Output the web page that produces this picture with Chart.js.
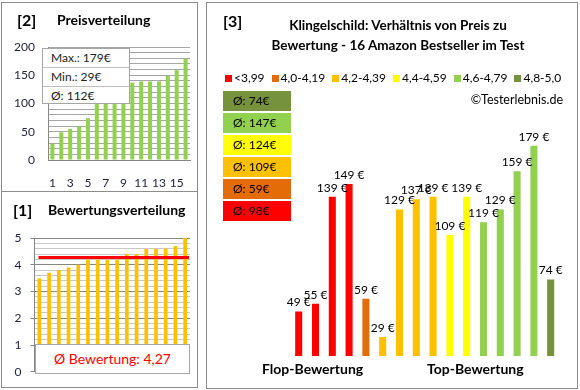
<!DOCTYPE html>
<html lang="de">
<head>
<meta charset="utf-8">
<title>Klingelschild Testerlebnis</title>
<script src="https://cdn.jsdelivr.net/npm/chart.js@4.4.1/dist/chart.umd.min.js"></script>
<style>
  html, body { margin: 0; padding: 0; background: #fff; }
  body { width: 580px; height: 390px; position: relative; overflow: hidden; font-family: Lato, "Noto Sans", sans-serif; color: #000; }
  .abs { position: absolute; }
  .panel { position: absolute; border: 1px solid #8C8C8C; box-sizing: border-box; }
  .titel { position: absolute; font-weight: bold; font-size: 14px; line-height: 20px; white-space: nowrap; }
  .nr { font-size: 16px; }
  canvas { position: absolute; }
  .infobox { position: absolute; background: #fff; border: 1px solid #A6A6A6; box-sizing: border-box; }
  .infobox div { height: 18px; line-height: 18px; padding-left: 8px; font-size: 12px; color: #222; border-bottom: 1px solid #BFBFBF; }
  .infobox div:last-child { border-bottom: none; }
  .avgbox { position: absolute; font-size: 12px; line-height: 20px; height: 20px; padding-left: 10px; box-sizing: border-box; }
  #legende { position: absolute; left: 225px; top: 70px; display: flex; gap: 7px; font-size: 12px; line-height: 16px; white-space: nowrap; }
  #legende span.sq { display: inline-block; width: 7px; height: 7px; margin-right: 2px; vertical-align: 0px; }
</style>
</head>
<body>

<div class="panel" style="left:1px; top:2px; width:197px; height:190px;"></div>
<div class="panel" style="left:1px; top:191px; width:197px; height:197px;"></div>
<div class="panel" style="left:206px; top:2px; width:372px; height:387px;"></div>

<canvas id="preis" width="197" height="190" style="left:0; top:0;"></canvas>
<canvas id="bewertung" width="197" height="196" style="left:0; top:192px;"></canvas>
<canvas id="verhaeltnis" width="371" height="388" style="left:206px; top:0;"></canvas>

<div class="titel nr" style="left:17px; top:10px;">[2]</div>
<div class="titel" style="left:57px; top:10px;">Preisverteilung</div>
<div class="titel nr" style="left:13px; top:200px;">[1]</div>
<div class="titel" style="left:48px; top:200px;">Bewertungsverteilung</div>
<div class="titel nr" style="left:223px; top:11px;">[3]</div>
<div class="titel" id="haupttitel" style="left:228px; top:16px; width:340px; text-align:center; line-height:19.5px; font-size:13.5px;"></div>

<div class="infobox" id="preisbox" style="left:42px; top:48px; width:88px; height:56px;"></div>
<div class="infobox" style="left:35px; top:344px; width:155px; height:30px; text-align:center; line-height:28px; font-size:14px; color:#FF0000;" id="bewertungsbox"></div>

<div id="legende"></div>
<div class="abs" id="copyright" style="right:17px; top:91px; font-size:12.5px; line-height:18px;"></div>
<div id="avgboxen"></div>
<div class="titel" id="flop" style="left:262px; top:359px;"></div>
<div class="titel" id="top" style="left:427px; top:359px;"></div>

<script>
// Werte
const produktNr = ['1', '2', '3', '4', '5', '6', '7', '8', '9', '10', '11', '12', '13', '14', '15', '16'];
const preiseSortiert = [29, 49, 55, 59, 74, 109, 119, 129, 129, 137, 139, 139, 139, 149, 159, 179];
const bewertungenSortiert = [3.5, 3.7, 3.8, 3.9, 4.0, 4.2, 4.2, 4.2, 4.2, 4.4, 4.4, 4.6, 4.6, 4.6, 4.7, 5.0];
const bewertungSchnitt = 4.27;
const preisInfo = ['Max.: 179€', 'Min.: 29€', 'Ø: 112€'];

const klassen = ['<3,99', '4,0-4,19', '4,2-4,39', '4,4-4,59', '4,6-4,79', '4,8-5,0'];
const klassenFarben = ['#FF0000', '#E36C09', '#FFC000', '#FFFF00', '#92D050', '#76923C'];
const klassenSchnitt = [98, 59, 109, 124, 147, 74];

// Preis je Produkt (von Flop nach Top) und Bewertungsklasse
const produktPreise = [49, 55, 139, 149, 59, 29, 129, 137, 139, 109, 139, 119, 129, 159, 179, 74];
const produktKlasse = [0, 0, 0, 0, 1, 2, 2, 2, 2, 3, 3, 4, 4, 4, 4, 5];

const titelZeilen = ['Klingelschild: Verhältnis von Preis zu', 'Bewertung - 16 Amazon Bestseller im Test'];
const gruppen = ['Flop-Bewertung', 'Top-Bewertung'];
const copyright = '©Testerlebnis.de';

const schrift = 'Lato, "Noto Sans", sans-serif';
const tickFarbe = '#1F1F3F';

// --- HTML-Texte ---
document.getElementById('haupttitel').innerHTML = titelZeilen.join('<br>');
document.getElementById('preisbox').innerHTML = preisInfo.map(t => '<div>' + t + '</div>').join('');
document.getElementById('bewertungsbox').textContent = 'Ø Bewertung: ' + bewertungSchnitt.toFixed(2).replace('.', ',');
document.getElementById('copyright').textContent = copyright;
document.getElementById('flop').textContent = gruppen[0];
document.getElementById('top').textContent = gruppen[1];

const legende = document.getElementById('legende');
klassen.forEach((k, i) => {
    const item = document.createElement('span');
    item.innerHTML = '<span class="sq" style="background:' + klassenFarben[i] + '"></span>' + k;
    legende.appendChild(item);
});

const avgboxen = document.getElementById('avgboxen');
klassenSchnitt.slice().reverse().forEach((wert, j) => {
    const i = klassenSchnitt.length - 1 - j;
    const box = document.createElement('div');
    box.className = 'avgbox';
    box.style.cssText = 'left:223px; top:' + (90.5 + j * 22.1) + 'px; width:68px; background:' + klassenFarben[i] + ';';
    box.textContent = 'Ø: ' + wert + '€';
    avgboxen.appendChild(box);
});

// --- Plugins ---
const schnittLinie = {
    id: 'schnittLinie',
    afterDatasetsDraw(chart) {
        const { ctx, chartArea, scales } = chart;
        const y = scales.y.getPixelForValue(bewertungSchnitt);
        ctx.save();
        ctx.strokeStyle = '#FF0000';
        ctx.lineWidth = 3;
        ctx.beginPath();
        ctx.moveTo(chartArea.left + 4, y);
        ctx.lineTo(chartArea.right - 1, y);
        ctx.stroke();
        ctx.restore();
    }
};

const preisBeschriftung = {
    id: 'preisBeschriftung',
    afterDatasetsDraw(chart) {
        const ctx = chart.ctx;
        ctx.save();
        ctx.font = '12px ' + schrift;
        ctx.fillStyle = '#000';
        ctx.textAlign = 'center';
        ctx.textBaseline = 'bottom';
        chart.data.datasets.forEach((ds, di) => {
            chart.getDatasetMeta(di).data.forEach((bar, i) => {
                if (ds.data[i] == null) return;
                ctx.fillText(ds.data[i] + ' €', bar.x, bar.y - 3);
            });
        });
        ctx.restore();
    }
};

function zeichnen() {
    Chart.defaults.font.family = schrift;
    Chart.defaults.animation = false;

    // [2] Preisverteilung
    new Chart(document.getElementById('preis'), {
        type: 'bar',
        data: {
            labels: produktNr,
            datasets: [{
                data: preiseSortiert,
                backgroundColor: '#92D050',
                barPercentage: 0.45,
                categoryPercentage: 1
            }]
        },
        options: {
            responsive: false,
            layout: { padding: { left: 8, right: 7, top: 47, bottom: 0 } },
            plugins: { legend: { display: false }, tooltip: { enabled: false } },
            scales: {
                x: {
                    grid: { display: false },
                    border: { color: '#868686' },
                    ticks: {
                        autoSkip: false, maxRotation: 0, padding: 8,
                        color: tickFarbe, font: { size: 12 },
                        callback: (v, i) => i % 2 === 0 ? produktNr[i] : ''
                    },
                    afterFit: s => { s.height = 30; }
                },
                y: {
                    min: 0, max: 200,
                    grid: { color: '#A6A6A6', drawTicks: false },
                    border: { color: '#868686' },
                    ticks: {
                        autoSkip: false,
                        stepSize: 10, maxTicksLimit: 30, padding: 13,
                        color: tickFarbe, font: { size: 12 },
                        callback: v => v % 50 === 0 ? v : ''
                    },
                    afterFit: s => { s.width = 40; }
                }
            }
        }
    });

    // [1] Bewertungsverteilung
    const ganz = v => Math.abs(v - Math.round(v)) < 1e-6;
    new Chart(document.getElementById('bewertung'), {
        type: 'bar',
        data: {
            labels: produktNr,
            datasets: [{
                data: bewertungenSortiert,
                backgroundColor: '#FFC000',
                barPercentage: 0.38,
                categoryPercentage: 1
            }]
        },
        options: {
            responsive: false,
            layout: { padding: { left: 4, right: 7, top: 46, bottom: 15 } },
            plugins: { legend: { display: false }, tooltip: { enabled: false } },
            scales: {
                x: { display: false },
                y: {
                    min: 0, max: 5,
                    grid: {
                        color: c => ganz(c.tick.value) ? '#868686' : '#C8C8C8',
                        tickColor: c => ganz(c.tick.value) ? '#868686' : 'rgba(0,0,0,0)',
                        tickLength: 4
                    },
                    border: { color: '#868686' },
                    ticks: {
                        autoSkip: false,
                        stepSize: 0.2, maxTicksLimit: 30, padding: 9,
                        color: tickFarbe, font: { size: 12 },
                        callback: v => ganz(v) ? Math.round(v) : ''
                    },
                    afterFit: s => { s.width = 30.5; }
                }
            }
        },
        plugins: [schnittLinie]
    });

    // [3] Verhältnis von Preis zu Bewertung
    const datensaetze = klassen.map((k, c) => ({
        label: k,
        data: produktPreise.map((p, i) => produktKlasse[i] === c ? p : null),
        backgroundColor: klassenFarben[c],
        grouped: false,
        barPercentage: 0.42,
        categoryPercentage: 1
    }));
    new Chart(document.getElementById('verhaeltnis'), {
        type: 'bar',
        data: { labels: produktNr, datasets: datensaetze },
        options: {
            responsive: false,
            layout: { padding: { left: 84.3, right: 17.9, top: 119, bottom: 32 } },
            plugins: { legend: { display: false }, tooltip: { enabled: false } },
            scales: {
                x: { display: false },
                y: { display: false, min: 14, max: 200 }
            }
        },
        plugins: [preisBeschriftung]
    });
}

if (document.fonts && document.fonts.load) {
    Promise.all([document.fonts.load('12px Lato'), document.fonts.load('bold 14px Lato')])
        .then(zeichnen, zeichnen);
} else {
    zeichnen();
}
</script>
</body>
</html>
